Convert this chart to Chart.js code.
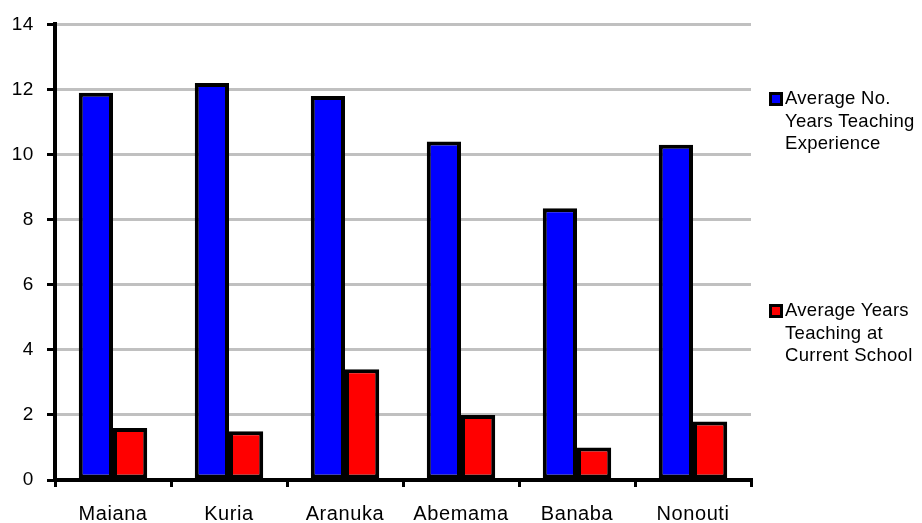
<!DOCTYPE html>
<html>
<head>
<meta charset="utf-8">
<script src="https://cdn.jsdelivr.net/npm/chart.js@4/dist/chart.umd.min.js"></script>
<style>
  html, body { margin: 0; padding: 0; background: #fff; }
  #wrap { position: relative; width: 922px; height: 523px; }
  canvas { position: absolute; left: 0; top: 0; }
  .legend { position: absolute; font-family: "Liberation Sans", Arial, sans-serif; font-size: 18.5px; letter-spacing: 0.3px; line-height: 22.5px; color: #000; white-space: nowrap; }
  .legend .sw { position: absolute; left: -16px; top: 5px; width: 8px; height: 8px; border: 3px solid #000; }
</style>
</head>
<body>
<div id="wrap">
  <canvas id="c" width="922" height="523"></canvas>
  <div class="legend" style="left:785px; top:87px;"><span class="sw" style="background:#0000ff"></span>Average No.<br>Years Teaching<br>Experience</div>
  <div class="legend" style="left:785px; top:299px;"><span class="sw" style="background:#ff0000"></span>Average Years<br>Teaching at<br>Current School</div>
</div>
<script>
// Islands surveyed
const islands = ["Maiana", "Kuria", "Aranuka", "Abemama", "Banaba", "Nonouti"];
// Average number of years of teaching experience
const yearsExperience = [11.9, 12.2, 11.8, 10.4, 8.35, 10.3];
// Average years teaching at the current school
const yearsCurrentSchool = [1.6, 1.5, 3.4, 2.0, 1.0, 1.8];
// Value axis ticks
const yTicks = [0, 2, 4, 6, 8, 10, 12, 14];

const family = "'Liberation Sans', Arial, sans-serif";

// slightly wider glyph spacing for all canvas text
const spacing = {
  id: 'spacing',
  beforeDraw(chart) { chart.ctx.letterSpacing = '0.6px'; }
};

new Chart(document.getElementById('c'), {
  type: 'bar',
  plugins: [spacing],
  data: {
    labels: islands,
    datasets: [
      {
        label: 'Average No. Years Teaching Experience',
        data: yearsExperience,
        backgroundColor: '#0000ff',
        borderColor: '#000',
        borderWidth: 4,
        borderSkipped: false
      },
      {
        label: 'Average Years Teaching at Current School',
        data: yearsCurrentSchool,
        backgroundColor: '#ff0000',
        borderColor: '#000',
        borderWidth: 4,
        borderSkipped: false
      }
    ]
  },
  options: {
    responsive: false,
    animation: false,
    devicePixelRatio: 1,
    layout: { padding: { left: 0, top: 23, right: 171, bottom: 0 } },
    datasets: { bar: { categoryPercentage: 0.59, barPercentage: 1.0 } },
    plugins: { legend: { display: false }, tooltip: { enabled: false } },
    scales: {
      x: {
        offset: true,
        grid: { display: true, drawOnChartArea: false, offset: true, tickLength: 7, tickColor: '#000', lineWidth: 3 },
        border: { color: '#000', width: 4 },
        ticks: { color: '#000', font: { family: family, size: 20 }, padding: 15, maxRotation: 0 },
        afterFit: s => { s.height = 43; }
      },
      y: {
        min: yTicks[0],
        max: yTicks[yTicks.length - 1],
        afterBuildTicks: s => { s.ticks = yTicks.map(v => ({ value: v })); },
        grid: { color: '#c0c0c0', lineWidth: 3, tickLength: 8, tickColor: '#000' },
        border: { color: '#000', width: 4 },
        ticks: { color: '#000', font: { family: family, size: 19 }, padding: 13 },
        afterFit: s => { s.width = 55; }
      }
    }
  }
});
</script>
</body>
</html>
